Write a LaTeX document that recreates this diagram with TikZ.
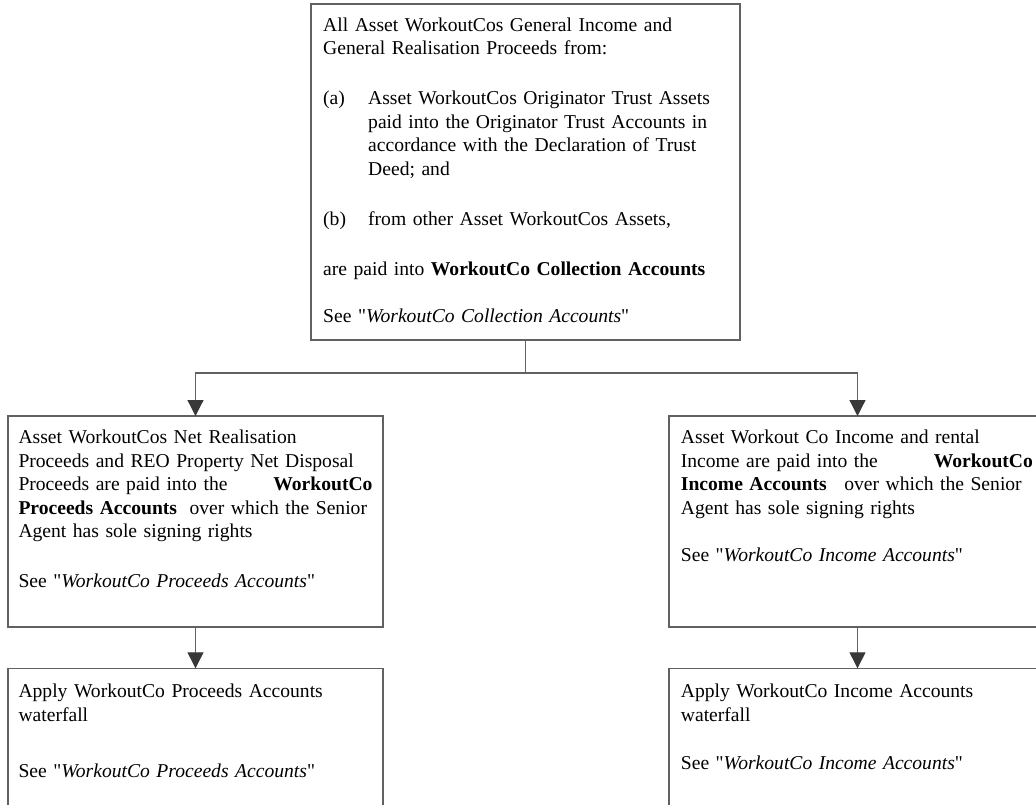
\documentclass[tikz,border=0pt]{standalone}
\usepackage{fontspec}
\newfontfamily\boxfont{Liberation Serif}
\usetikzlibrary{arrows.meta}
\tikzset{
	box/.style={draw=black!62, line width=1.2pt, rectangle, inner sep=0pt, outer sep=0pt},
	txt/.style={anchor=base west, inner sep=0pt, align=left, text width=420pt, font=\boxfont\fontsize{19.6}{23.5}\selectfont},
	link/.style={draw=black!62, line width=1.2pt},
	flow/.style={link, -{Triangle[width=16pt,length=16pt,color=black!78,fill=black!78]}}
}
\newcommand\fullline[2]{\makebox[#1][s]{#2}}

\begin{document}
\begin{tikzpicture}[x=1pt,y=-1pt]
		%%%%% START %%%%%
		
		\useasboundingbox[fill=white] (0,0) rectangle (1036,804);
		\clip (0,0) rectangle (1036,804);
		
		% boxes
		\node[box, minimum width=429pt, minimum height=336pt] (collect) at (525.5,172) {};
		\node[box, minimum width=375pt, minimum height=211pt] (proceeds) at (195.5,521.5) {};
		\node[box, minimum width=377pt, minimum height=211pt] (income) at (857.5,521.5) {};
		\node[box, minimum width=375pt, minimum height=170pt] (procwf) at (195.5,753.3) {};
		\node[box, minimum width=377pt, minimum height=170pt] (incwf) at (857.5,753.3) {};
		
		% texts
		\node[txt] (collecttxt) at (323,31) {All Asset WorkoutCos General Income and\\
			General Realisation Proceeds from:\\[26.5pt]
			\makebox[45pt][l]{(a)}Asset WorkoutCos Originator Trust Assets\\
			\hspace*{45pt}paid into the Originator Trust Accounts in\\
			\hspace*{45pt}accordance with the Declaration of Trust\\
			\hspace*{45pt}Deed; and\\[26.5pt]
			\makebox[45pt][l]{(b)}from other Asset WorkoutCos Assets,\\[26.5pt]
			are paid into \textbf{WorkoutCo Collection Accounts}\\[23.5pt]
			See "\textit{WorkoutCo Collection Accounts}"};
		
		\node[txt] (proceedstxt) at (18.3,443.5) {Asset WorkoutCos Net Realisation\\
			Proceeds and REO Property Net Disposal\\
			\fullline{354pt}{Proceeds are paid into the\hfill\textbf{WorkoutCo}}\\
			\textbf{Proceeds Accounts}\hspace{6pt} over which the Senior\\
			Agent has sole signing rights\\[26.2pt]
			See "\textit{WorkoutCo Proceeds Accounts}"};
		
		\node[txt] (incometxt) at (680.7,443.5) {Asset Workout Co Income and rental\\
			\fullline{352pt}{Income are paid into the\hfill\textbf{WorkoutCo}}\\
			\textbf{Income Accounts}\hspace{11pt} over which the Senior\\
			Agent has sole signing rights\\[24.2pt]
			See "\textit{WorkoutCo Income Accounts}"};
		
		\node[txt] (procwftxt) at (18.3,697.7) {Apply WorkoutCo Proceeds Accounts\\
			waterfall\\[33.2pt]
			See "\textit{WorkoutCo Proceeds Accounts}"};
		
		\node[txt] (incwftxt) at (680.7,697.7) {Apply WorkoutCo Income Accounts\\
			waterfall\\[24.8pt]
			See "\textit{WorkoutCo Income Accounts}"};
		
		% connectors
		\coordinate (fork) at (525.5,373);
		\draw[link] (collect.south) -- (fork);
		\draw[flow] (fork) -| (proceeds.north);
		\draw[flow] (fork) -| (income.north);
		\draw[flow] (proceeds.south) -- (procwf.north);
		\draw[flow] (income.south) -- (incwf.north);
		
		%%%%% END %%%%%
	\end{tikzpicture}
\end{document}
